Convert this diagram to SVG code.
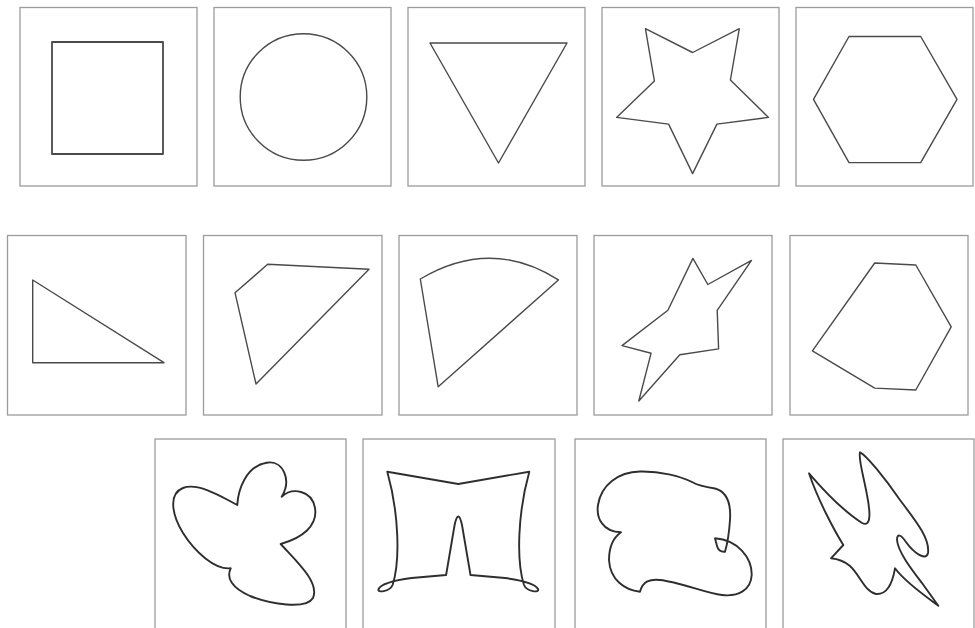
<svg xmlns="http://www.w3.org/2000/svg" width="975" height="628" viewBox="0 0 975 628">
<style>
.box{fill:none;stroke:#9c9c9c;stroke-width:1.3}
.sh{fill:none;stroke:#4a4a4a;stroke-width:1.4;stroke-linejoin:round}
.bl{fill:none;stroke:#2e2e2e;stroke-width:1.9;stroke-linejoin:round}
</style>
<rect width="975" height="628" fill="#ffffff"/>
<g id="row1">
<g id="square"><rect class="box" x="20" y="7.5" width="177" height="178.5"/><rect class="sh" x="52" y="42" width="111" height="112" style="stroke-width:1.8"/></g>
<g id="circle"><rect class="box" x="214" y="7.5" width="177" height="178.5"/><circle class="sh" cx="303.5" cy="97" r="63.3"/></g>
<g id="triangle"><rect class="box" x="408" y="7.5" width="177" height="178.5"/><polygon class="sh" points="430,43 567,43 498.5,163"/></g>
<g id="star"><rect class="box" x="602" y="7.5" width="177" height="178.5"/><polygon class="sh" points="645.4,28.7 692.6,52.5 739.3,28.7 730.4,80 768.5,117.4 716.9,124.1 692.6,173.6 668.6,124.1 616.6,117.4 654.4,81"/></g>
<g id="hexagon"><rect class="box" x="796" y="7.5" width="177" height="178.5"/><polygon class="sh" points="849,36.5 920.7,36.5 957,99.3 920.7,162.6 849,162.6 813.5,99.3"/></g>
</g>
<g id="row2">
<g id="right-triangle"><rect class="box" x="7.5" y="235.5" width="178.5" height="179.5"/><polygon class="sh" points="32.7,280 32.7,362.7 164,362.7"/></g>
<g id="quad"><rect class="box" x="203.5" y="235.5" width="178.5" height="179.5"/><polygon class="sh" points="235,292.7 267.7,264.3 369,269.3 256,384"/></g>
<g id="sector"><rect class="box" x="399" y="235.5" width="178" height="179.5"/><path class="sh" d="M420.3,279 Q491,237 558.4,279.9 L438.2,386.8 Z"/></g>
<g id="spiky"><rect class="box" x="594" y="235.5" width="178" height="179.5"/><polygon class="sh" points="692.9,258.4 707.8,284.5 751.5,260.4 717.2,310.3 718.6,348.9 679.8,354.8 638.8,401 651.1,353.2 622,345.6 667.9,310.2"/></g>
<g id="irregular-hexagon"><rect class="box" x="790" y="235.5" width="178" height="179.5"/><polygon class="sh" points="874.7,263 915.8,265 951.2,326.8 915.8,390 874.7,388.1 812.4,350.8"/></g>
</g>
<g id="row3">
<g id="flower"><rect class="box" x="155" y="439" width="191" height="195"/><path class="bl" d="M237.3,505 C238,490 246,466 266.7,462.7 C283,460 292,480 281.7,496.7 C292,487 312,490 315,508 C318,526 302,538 280.7,544 C295,560 320,582 313,598 C306,610 270,604 250,596 C232,588 226,578 230.7,568.3 C215,570 195,552 183,533 C172,515 168,494 183,488 C198,482 222,497 237.3,505 Z"/></g>
<g id="pants"><rect class="box" x="363" y="439" width="192" height="195"/><path class="bl" d="M387.3,471.7 L458.3,484 L529.3,471.7 C518,512 516,560 524,585 C527,592 540,593 538,589 C535,583 520,580 505,578 L470.5,575 L462,525 Q458.3,508 454.6,525 L446.1,575 L411.6,578 C396.6,580 381.6,583 378.6,589 C376.6,593 389.6,592 392.6,585 C400.6,560 398.6,512 387.3,471.7 Z"/></g>
<g id="cloud"><rect class="box" x="575" y="439" width="191" height="195"/><path class="bl" d="M621,532.3 C603,532 596,518 598,505 C601,485 618,472 640,471.5 C660,471 680,476 692,482 C697,485 705,487 715,488.5 C728,492 731,505 730,520 C729,535 727,545 725,551.7 C721,552 718,550 717,546 L715,538.3 C738,540 752,558 751.7,575 C751,590 738,597 722,595 C705,593 680,582 660,580 C650,579 643,581 640,591.7 C625,590 610,580 609,560 C609,548 613,538 621,532.3 Z"/></g>
<g id="jagged"><rect class="box" x="783" y="439" width="191" height="195"/><path class="bl" d="M809,473.3 C825,492 845,512 862,523 C872,528 870,510 867,495 C864,478 858,458 860,452.3 C866,455 885,478 900,500 C915,520 930,538 928,553 C926,562 913,552 906,542 C902,536 897,532 897,540 C898,552 912,570 922,583 L938.3,605.7 C925,596 905,582 895,568.3 C893,580 889,595 876,594 C865,592 860,575 850,566 C844,561 838,559 831,558.3 L843.3,545 C834,530 818,500 809,473.3 Z"/></g>
</g>
</svg>
